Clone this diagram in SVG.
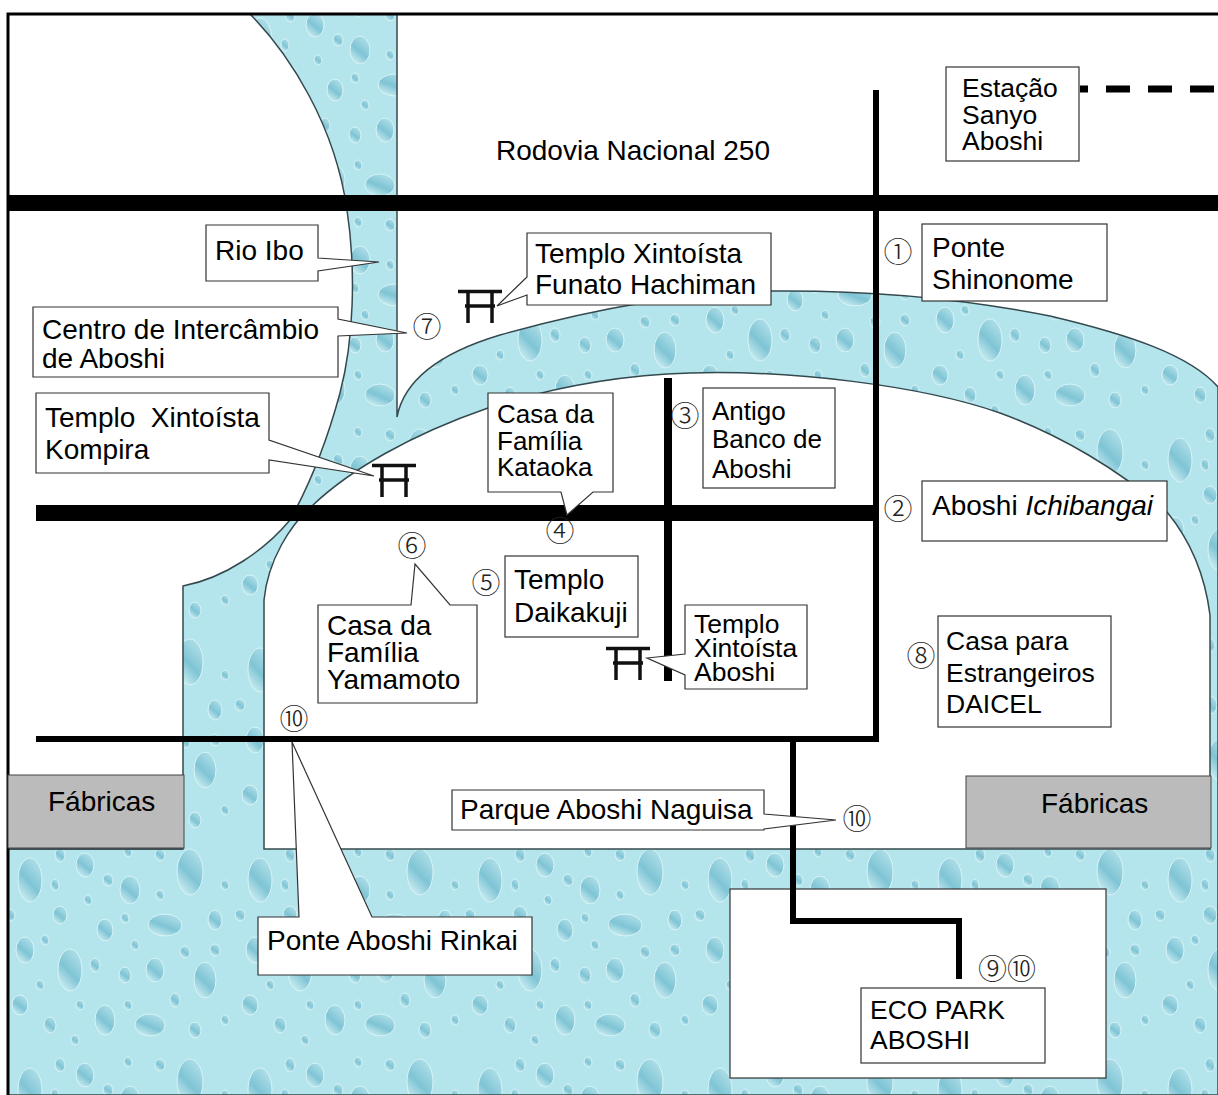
<svg xmlns="http://www.w3.org/2000/svg" width="1218" height="1095" viewBox="0 0 1218 1095">
<style>
.t{font-family:"Liberation Sans",Arial,sans-serif;font-size:28px;fill:#000}
.s{font-size:26.5px}
.k{font-size:26px}
.n{font-family:"Noto Sans CJK JP","DejaVu Serif",serif;font-size:29px;fill:#222;text-anchor:middle;font-weight:300}
.box{fill:#fff;stroke:#333;stroke-width:1.2}
.road{fill:none;stroke:#000;stroke-linejoin:miter}
.fac{fill:#bbb;stroke:#444;stroke-width:1}
.torii{fill:none;stroke:#111;stroke-width:3.5}
</style>
<defs>
<linearGradient id="dg" x1="0.2" y1="1" x2="0.8" y2="0">
<stop offset="0" stop-color="#d2f1f4"/><stop offset="0.45" stop-color="#7fc4d5"/><stop offset="1" stop-color="#b4e2ea"/>
</linearGradient>
<pattern id="water" width="230" height="210" patternUnits="userSpaceOnUse">
<rect width="230" height="210" fill="#b4e4ec"/>
<g fill="url(#dg)" stroke="#d8f4f6" stroke-width="1">
<ellipse cx="30" cy="40" rx="12" ry="22"/><ellipse cx="85" cy="25" rx="9" ry="12"/><ellipse cx="130" cy="50" rx="10" ry="14"/>
<ellipse cx="190" cy="32" rx="13" ry="23"/><ellipse cx="60" cy="75" rx="7" ry="9"/><ellipse cx="105" cy="90" rx="8" ry="11"/>
<ellipse cx="165" cy="85" rx="17" ry="11"/><ellipse cx="215" cy="80" rx="7" ry="10"/><ellipse cx="25" cy="110" rx="9" ry="13"/>
<ellipse cx="70" cy="130" rx="12" ry="21"/><ellipse cx="125" cy="135" rx="6" ry="8"/><ellipse cx="155" cy="130" rx="9" ry="12"/>
<ellipse cx="205" cy="140" rx="11" ry="18"/><ellipse cx="20" cy="165" rx="8" ry="10"/><ellipse cx="50" cy="185" rx="6" ry="8"/>
<ellipse cx="105" cy="180" rx="10" ry="15"/><ellipse cx="150" cy="185" rx="15" ry="11"/><ellipse cx="195" cy="190" rx="6" ry="8"/>
<ellipse cx="60" cy="15" rx="5" ry="7"/><ellipse cx="160" cy="15" rx="5" ry="6"/><ellipse cx="135" cy="105" rx="4" ry="5"/>
<ellipse cx="45" cy="100" rx="4" ry="5"/><ellipse cx="185" cy="112" rx="5" ry="6"/><ellipse cx="88" cy="60" rx="4" ry="5"/>
<ellipse cx="10" cy="75" rx="5" ry="6"/><ellipse cx="225" cy="180" rx="4" ry="5"/><ellipse cx="128" cy="165" rx="4" ry="5"/>
<ellipse cx="55" cy="45" rx="4" ry="6"/><ellipse cx="108" cy="40" rx="5" ry="6"/><ellipse cx="160" cy="55" rx="4" ry="5"/>
<ellipse cx="215" cy="110" rx="5" ry="6"/><ellipse cx="95" cy="125" rx="5" ry="7"/><ellipse cx="40" cy="145" rx="4" ry="5"/>
<ellipse cx="175" cy="160" rx="5" ry="7"/><ellipse cx="80" cy="165" rx="4" ry="5"/><ellipse cx="225" cy="45" rx="4" ry="5"/>
<ellipse cx="125" cy="78" rx="4" ry="5"/><ellipse cx="75" cy="200" rx="4" ry="5"/><ellipse cx="128" cy="12" rx="4" ry="5"/>
</g>
</pattern>
<g id="tor">
<path class="torii" d="M0 1.5H44M7 16H37M10 1V33M34 1V33"/>
</g>
</defs>
<rect width="1218" height="1095" fill="#fff"/>
<g id="water-area">
<path fill="url(#water)" stroke="#34494e" stroke-width="1.5" d="M250 14C290 55 335 125 347 210C356 270 354 340 340 393C330 430 315 475 290 520C265 550 225 578 183 586V849H8V1095H1218V387C1190 355 1130 335 1050 316C960 298 860 290 770 291C680 292 590 310 500 335C450 350 405 375 397 417V14Z"/>
<path fill="#fff" stroke="#34494e" stroke-width="1.5" d="M264 849V600C268 560 290 525 313 505C350 470 410 435 488 408C550 388 620 375 690 373C790 370 920 385 1000 413C1060 435 1120 470 1167 512C1190 540 1205 575 1210 615V849Z"/>
<path d="M8 849H183" fill="none" stroke="#34494e" stroke-width="1.5"/>
</g>
<g id="border">
<path d="M8 1095V14H1218" fill="none" stroke="#000" stroke-width="3"/>
</g>
<g id="eco-area"><rect class="box" x="730" y="889" width="376" height="189"/></g>
<g id="connectors">
<path class="road" stroke-width="16" d="M9 203H1218"/>
<path class="road" stroke-width="16" d="M36 513H876"/>
<path class="road" stroke-width="6" d="M876 90V741M36 739H879"/>
<path class="road" stroke-width="8" d="M668 378V681"/>
<path class="road" stroke-width="6" d="M793 739V921H959V979"/>
<path class="road" stroke-width="7" stroke-dasharray="24 18" stroke-dashoffset="16" d="M1080 89H1218"/>
</g>
<g id="factory-left"><rect class="fac" x="8" y="775" width="176" height="73"/><text class="t" x="48" y="811">Fábricas</text></g>
<g id="factory-right"><rect class="fac" x="966" y="776" width="245" height="72"/><text class="t" x="1041" y="813">Fábricas</text></g>
<g id="road-label"><text class="t" x="496" y="160">Rodovia Nacional 250</text></g>
<g id="estacao"><rect class="box" x="946" y="67" width="133" height="94"/><text class="t s" x="962" y="97">Estação</text><text class="t s" x="962" y="124">Sanyo</text><text class="t s" x="962" y="150">Aboshi</text></g>
<g id="rio-ibo"><path class="box" d="M206 225H318V258L379 262L318 271V281H206Z"/><text class="t" x="215" y="260">Rio Ibo</text></g>
<g id="centro"><path class="box" d="M33 307H338V319L407 333L338 336V377H33Z"/><text class="t" x="42" y="339">Centro de Intercâmbio</text><text class="t" x="42" y="368">de Aboshi</text></g>
<g id="kompira"><path class="box" d="M36 393H269V440L374 476L269 460V473H36Z"/><text class="t" x="45" y="427" xml:space="preserve">Templo  Xintoísta</text><text class="t" x="45" y="459">Kompira</text></g>
<g id="funato"><path class="box" d="M527 233H771V305H527V295L497 306L527 277Z"/><text class="t" x="535" y="263">Templo Xintoísta</text><text class="t" x="535" y="294">Funato Hachiman</text></g>
<g id="kataoka"><path class="box" d="M488 393H613V492H593L567 515L561 492H488Z"/><text class="t k" x="497" y="423">Casa da</text><text class="t k" x="497" y="450">Família</text><text class="t k" x="497" y="476">Kataoka</text></g>
<g id="banco"><rect class="box" x="703" y="388" width="132" height="100"/><text class="t k" x="712" y="420">Antigo</text><text class="t k" x="712" y="448">Banco de</text><text class="t k" x="712" y="478">Aboshi</text></g>
<g id="shinonome"><rect class="box" x="922" y="224" width="185" height="77"/><text class="t" x="932" y="257">Ponte</text><text class="t" x="932" y="289">Shinonome</text></g>
<g id="ichibangai"><rect class="box" x="922" y="481" width="245" height="60"/><text class="t" x="932" y="515">Aboshi <tspan font-style="italic">Ichibangai</tspan></text></g>
<g id="daikakuji"><rect class="box" x="505" y="556" width="133" height="81"/><text class="t" x="514" y="589">Templo</text><text class="t" x="514" y="622">Daikakuji</text></g>
<g id="yamamoto"><path class="box" d="M318 605H411L415 564L450 605H477V703H318Z"/><text class="t" x="327" y="635">Casa da</text><text class="t" x="327" y="662">Família</text><text class="t" x="327" y="689">Yamamoto</text></g>
<g id="aboshi-temple"><path class="box" d="M685 605H807V689H685V675L647 658L685 654Z"/><text class="t s" x="694" y="633">Templo</text><text class="t s" x="694" y="657">Xintoísta</text><text class="t s" x="694" y="681">Aboshi</text></g>
<g id="daicel"><rect class="box" x="938" y="616" width="173" height="111"/><text class="t s" x="946" y="650">Casa para</text><text class="t s" x="946" y="682">Estrangeiros</text><text class="t s" x="946" y="713">DAICEL</text></g>
<g id="naguisa"><path class="box" d="M452 790H764V814L836 820L764 829V830H452Z"/><text class="t" x="460" y="819">Parque Aboshi Naguisa</text></g>
<g id="rinkai"><path class="box" d="M258 917H299L292 742L372 917H532V975H258Z"/><text class="t" x="267" y="950">Ponte Aboshi Rinkai</text></g>
<g id="eco-park"><rect class="box" x="861" y="988" width="184" height="75"/><text class="t s" x="870" y="1019">ECO PARK</text><text class="t s" x="870" y="1049">ABOSHI</text></g>
<g id="torii-1"><use href="#tor" x="458" y="290"/></g>
<g id="torii-2"><use href="#tor" x="372" y="464"/></g>
<g id="torii-3"><use href="#tor" x="606" y="647"/></g>
<g id="numbers">
<text class="n" x="898" y="263">①</text><text class="n" x="898" y="520">②</text><text class="n" x="685" y="427">③</text><text class="n" x="560" y="542">④</text><text class="n" x="486" y="594">⑤</text><text class="n" x="412" y="557">⑥</text><text class="n" x="427" y="338">⑦</text><text class="n" x="921" y="667">⑧</text><text class="n" x="294" y="730">⑩</text><text class="n" x="857" y="830">⑩</text><text class="n" x="1007" y="980">⑨⑩</text>
</g>
</svg>
